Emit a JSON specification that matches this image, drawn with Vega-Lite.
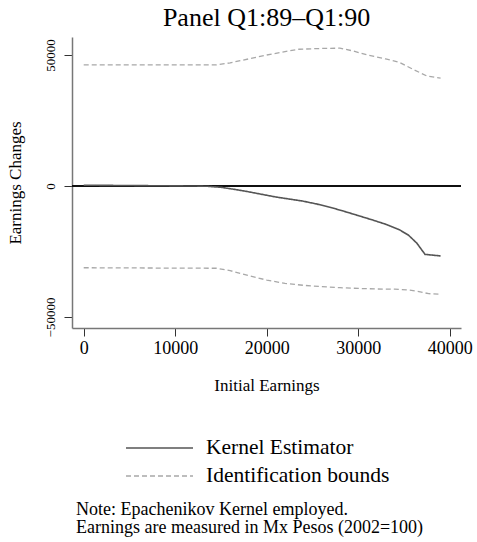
{
  "$schema": "https://vega.github.io/schema/vega-lite/v6.json",
  "padding": {"left": 6, "top": 5, "right": 5, "bottom": 5},
  "config": {
    "font": "Liberation Serif",
    "view": {"stroke": null},
    "axis": {"grid": false, "domainColor": "#777777", "domainWidth": 1.5, "tickColor": "#333333", "tickSize": 8, "labelColor": "#000000", "titleColor": "#000000", "titleFontWeight": "normal", "labelFont": "Liberation Serif", "titleFont": "Liberation Serif"}
  },
  "resolve": {
    "scale": {"color": "independent", "strokeDash": "independent", "strokeWidth": "independent"},
    "legend": {"color": "independent", "strokeDash": "independent", "strokeWidth": "independent"}
  },
  "spacing": 12,
  "vconcat": [
    {
      "width": 389,
      "height": 291,
      "title": {"text": "Panel Q1:89–Q1:90", "fontSize": 26, "fontWeight": "normal", "font": "Liberation Serif", "anchor": "middle", "offset": 6, "color": "#000000"},
      "data": {"values": [
        {"series": "Kernel Estimator", "part": "k", "x": 0, "y": 300},
        {"series": "Kernel Estimator", "part": "k", "x": 2000, "y": 250},
        {"series": "Kernel Estimator", "part": "k", "x": 4000, "y": 200},
        {"series": "Kernel Estimator", "part": "k", "x": 6000, "y": 150},
        {"series": "Kernel Estimator", "part": "k", "x": 8000, "y": 100},
        {"series": "Kernel Estimator", "part": "k", "x": 10000, "y": 50},
        {"series": "Kernel Estimator", "part": "k", "x": 12000, "y": 0},
        {"series": "Kernel Estimator", "part": "k", "x": 13500, "y": -100},
        {"series": "Kernel Estimator", "part": "k", "x": 15000, "y": -500},
        {"series": "Kernel Estimator", "part": "k", "x": 16500, "y": -1300},
        {"series": "Kernel Estimator", "part": "k", "x": 18000, "y": -2200},
        {"series": "Kernel Estimator", "part": "k", "x": 19500, "y": -3200},
        {"series": "Kernel Estimator", "part": "k", "x": 21000, "y": -4200},
        {"series": "Kernel Estimator", "part": "k", "x": 22500, "y": -5000},
        {"series": "Kernel Estimator", "part": "k", "x": 24000, "y": -5800},
        {"series": "Kernel Estimator", "part": "k", "x": 25500, "y": -6900},
        {"series": "Kernel Estimator", "part": "k", "x": 27000, "y": -8200},
        {"series": "Kernel Estimator", "part": "k", "x": 28500, "y": -9700},
        {"series": "Kernel Estimator", "part": "k", "x": 30000, "y": -11300},
        {"series": "Kernel Estimator", "part": "k", "x": 31500, "y": -12900},
        {"series": "Kernel Estimator", "part": "k", "x": 33000, "y": -14600},
        {"series": "Kernel Estimator", "part": "k", "x": 34500, "y": -16700},
        {"series": "Kernel Estimator", "part": "k", "x": 35500, "y": -18800},
        {"series": "Kernel Estimator", "part": "k", "x": 36400, "y": -21800},
        {"series": "Kernel Estimator", "part": "k", "x": 37300, "y": -26100},
        {"series": "Kernel Estimator", "part": "k", "x": 39000, "y": -26700},
        {"series": "Identification bounds", "part": "u", "x": 0, "y": 46200},
        {"series": "Identification bounds", "part": "u", "x": 14500, "y": 46200},
        {"series": "Identification bounds", "part": "u", "x": 16000, "y": 47000},
        {"series": "Identification bounds", "part": "u", "x": 18000, "y": 48500},
        {"series": "Identification bounds", "part": "u", "x": 20000, "y": 50000},
        {"series": "Identification bounds", "part": "u", "x": 22000, "y": 51300},
        {"series": "Identification bounds", "part": "u", "x": 23500, "y": 52200},
        {"series": "Identification bounds", "part": "u", "x": 26000, "y": 52500},
        {"series": "Identification bounds", "part": "u", "x": 28000, "y": 52600},
        {"series": "Identification bounds", "part": "u", "x": 29500, "y": 51500},
        {"series": "Identification bounds", "part": "u", "x": 31000, "y": 50000},
        {"series": "Identification bounds", "part": "u", "x": 33000, "y": 48500},
        {"series": "Identification bounds", "part": "u", "x": 34500, "y": 47200},
        {"series": "Identification bounds", "part": "u", "x": 36000, "y": 44500},
        {"series": "Identification bounds", "part": "u", "x": 37500, "y": 42000},
        {"series": "Identification bounds", "part": "u", "x": 39000, "y": 41200},
        {"series": "Identification bounds", "part": "l", "x": 0, "y": -31200},
        {"series": "Identification bounds", "part": "l", "x": 14500, "y": -31400},
        {"series": "Identification bounds", "part": "l", "x": 16000, "y": -32300},
        {"series": "Identification bounds", "part": "l", "x": 18000, "y": -34200},
        {"series": "Identification bounds", "part": "l", "x": 20000, "y": -35900},
        {"series": "Identification bounds", "part": "l", "x": 22000, "y": -37200},
        {"series": "Identification bounds", "part": "l", "x": 24000, "y": -37900},
        {"series": "Identification bounds", "part": "l", "x": 26000, "y": -38400},
        {"series": "Identification bounds", "part": "l", "x": 28000, "y": -38800},
        {"series": "Identification bounds", "part": "l", "x": 30000, "y": -39100},
        {"series": "Identification bounds", "part": "l", "x": 32000, "y": -39300},
        {"series": "Identification bounds", "part": "l", "x": 34000, "y": -39400},
        {"series": "Identification bounds", "part": "l", "x": 35500, "y": -39700},
        {"series": "Identification bounds", "part": "l", "x": 36500, "y": -40200},
        {"series": "Identification bounds", "part": "l", "x": 37700, "y": -41100},
        {"series": "Identification bounds", "part": "l", "x": 39000, "y": -41300}
      ]},
      "layer": [
        {
          "mark": {"type": "rule", "color": "#111111", "strokeWidth": 1.3},
          "encoding": {"y": {"datum": 0}}
        },
        {
          "mark": {"type": "line", "interpolate": "linear"},
          "encoding": {
            "x": {"field": "x", "type": "quantitative", "scale": {"domain": [-1280, 41230], "nice": false, "zero": false},
              "axis": {"values": [0, 10000, 20000, 30000, 40000], "format": "d", "title": "Initial Earnings", "labelFontSize": 18, "titleFontSize": 17, "labelPadding": 3, "titlePadding": 20, "labelFlush": false}},
            "y": {"field": "y", "type": "quantitative", "scale": {"domain": [-54200, 56870], "nice": false, "zero": false},
              "axis": {"values": [-50000, 0, 50000], "format": "d", "title": "Earnings Changes", "labelFontSize": 13, "titleFontSize": 17, "labelAngle": -90, "labelAlign": "center", "labelBaseline": "bottom", "labelPadding": 7, "titlePadding": 20, "labelFlush": false}},
            "detail": {"field": "part"},
            "color": {"field": "series", "type": "nominal", "scale": {"domain": ["Kernel Estimator", "Identification bounds"], "range": ["#555555", "#a8a8a8"]},
              "legend": {"title": null, "orient": "none", "legendX": 53, "legendY": 398, "direction": "vertical", "symbolType": "stroke", "symbolSize": 4489, "symbolStrokeWidth": 1.2, "clipHeight": 26, "labelFontSize": 21.5, "labelFont": "Liberation Serif", "labelColor": "#000000", "labelOffset": 12, "labelLimit": 400, "rowPadding": 2}},
            "strokeDash": {"field": "series", "type": "nominal", "scale": {"domain": ["Kernel Estimator", "Identification bounds"], "range": [[1, 0], [5, 3]]}},
            "strokeWidth": {"field": "series", "type": "nominal", "scale": {"domain": ["Kernel Estimator", "Identification bounds"], "range": [1.6, 1.3]}}
          }
        }
      ]
    },
    {
      "width": 389,
      "height": 36,
      "data": {"values": [
        {"line": 1, "text": "Note: Epachenikov Kernel employed."},
        {"line": 2, "text": "Earnings are measured in Mx Pesos (2002=100)"}
      ]},
      "mark": {"type": "text", "align": "left", "baseline": "middle", "fontSize": 18, "font": "Liberation Serif", "color": "#000000"},
      "encoding": {
        "x": {"value": 4},
        "y": {"field": "line", "type": "ordinal", "axis": null},
        "text": {"field": "text"}
      }
    }
  ]
}
